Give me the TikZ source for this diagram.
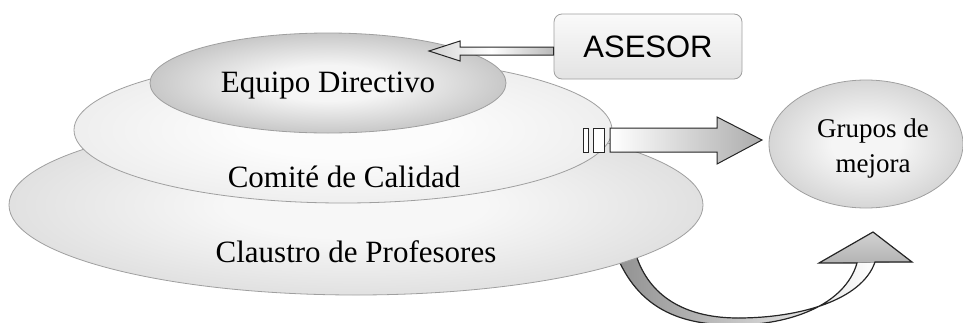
\documentclass[tikz,border=0pt]{standalone}
\usepackage{fontspec}
\setmainfont{Liberation Serif}
\setsansfont{Liberation Sans}
\usepackage{tikz}
\usetikzlibrary{shapes,arrows}
\pgfdeclareradialshading[laycin,laycout]{layershade}{\pgfpoint{0bp}{0bp}}{color(0bp)=(laycin); color(9bp)=(laycin); color(38bp)=(laycout); color(50bp)=(laycout)}
\tikzset{layer colors/.style 2 args={/utils/exec={\colorlet{laycin}{#1}\colorlet{laycout}{#2}}, shading=layershade}}
\tikzstyle{layer} = [ellipse, draw=gray!75, line width=0.4pt, inner sep=0pt]
\tikzstyle{txt} = [inner sep=0pt, font=\fontsize{15.5}{18}\selectfont]
\tikzstyle{fatarrow} = [draw=black!85, line width=0.5pt, line join=miter, left color=white, right color=gray!65]

\begin{document}
\begin{tikzpicture}[x=0.5pt,y=-0.5pt]
\useasboundingbox (0,0) rectangle (963,322);
% curved arrow, starting under the bottom layer
\coordinate (loop-start) at (620,263);
\coordinate (loop-end) at (873,232);
\fill [left color=gray!85, right color=white] (loop-start) .. controls (645,315) and (690,325) .. (735,325) .. controls (790,325) and (845,305) .. (857,263) -- (875,262) .. controls (862,300) and (800,318) .. (738,318) .. controls (690,318) and (652,300) .. (637,258) -- cycle;
\fill [top color=gray!35, bottom color=gray!60] (819,263) -- (loop-end) -- (912,262) -- cycle;
\draw [black!85, line width=0.6pt, line join=miter] (loop-start) .. controls (645,315) and (690,325) .. (735,325) .. controls (790,325) and (845,305) .. (857,263) -- (819,263) -- (loop-end) -- (912,262) -- (875,262) .. controls (862,300) and (800,318) .. (738,318) .. controls (690,318) and (652,300) .. (637,258);

\node [layer, minimum width=347pt, minimum height=90pt, shade, layer colors={gray!6}{gray!38}] (claustro) at (356,205) {};
\node [layer, minimum width=269pt, minimum height=73pt, shade, layer colors={gray!2}{gray!22}] (comite) at (343,130) {};
\node [layer, minimum width=178pt, minimum height=50pt, shade, layer colors={gray!8}{gray!72}] (equipo) at (328,83) {};
\node [layer, minimum width=97pt, minimum height=64pt, shade, layer colors={gray!8}{gray!52}] (grupos) at (866,144) {};

\node [txt] (equipo-txt) at (328,86) {Equipo Directivo};
\node [txt] (comite-txt) at (344,177) {Comité de Calidad};
\node [txt] (claustro-txt) at (356,252) {Claustro de Profesores};
\node [txt, font=\fontsize{13.5}{17.5}\selectfont, align=center] (grupos-txt) at (873,149) {Grupos de\\mejora};

\node [draw=gray!75, rounded corners=4pt, top color=gray!4, bottom color=gray!22, minimum width=94pt, minimum height=32.5pt, font=\sffamily\fontsize{15.5}{18}\selectfont] (asesor) at (648,46.5) {ASESOR};

% ASESOR to Equipo Directivo
\coordinate (asesor-tip) at (429,51);
\path [fatarrow, left color=gray!35, right color=gray!55, middle color=white] (asesor-tip) -- (460,41) -- (460,47) -- (asesor.west |- 0,47) -- (asesor.west |- 0,55) -- (460,55) -- (460,61) -- cycle;

% Comite de Calidad to Grupos de mejora
\draw [black!85, fill=white, line width=0.5pt] (583,128) rectangle (588,152);
\draw [black!85, fill=white, line width=0.5pt] (593,128) rectangle (604,152);
\coordinate (grupos-tip) at (762,140);
\path [fatarrow] (610,128) -- (717,128) -- (717,117) -- (grupos-tip) -- (717,164) -- (717,152) -- (610,152) -- cycle;
\end{tikzpicture}
\end{document}
